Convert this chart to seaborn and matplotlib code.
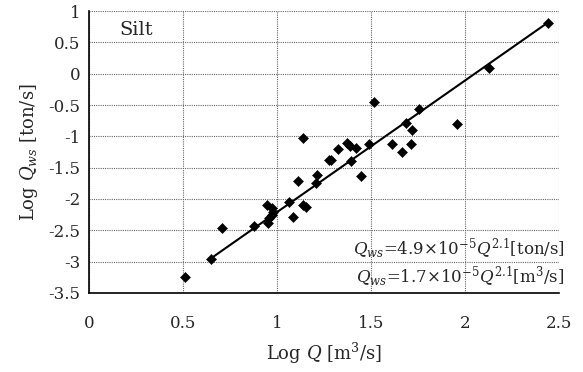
import numpy as np
import pandas as pd
import seaborn as sns
import matplotlib.pyplot as plt

sns.set_theme(style="white")
plt.rcParams['font.family'] = ['DejaVu Serif']
plt.rcParams['mathtext.fontset'] = 'dejavuserif'

# data (log10 values)
log_q = [0.51, 0.65, 0.71, 0.88, 0.945, 0.95, 0.972, 0.972, 0.96, 0.98,
         1.064, 1.087, 1.113, 1.137, 1.14, 1.154, 1.211, 1.207, 1.278, 1.286,
         1.326, 1.371, 1.388, 1.392, 1.42, 1.449, 1.491, 1.516, 1.61, 1.663,
         1.686, 1.711, 1.72, 1.757, 1.956, 2.128, 2.44]
log_qws = [-3.25, -2.95, -2.47, -2.43, -2.10, -2.39, -2.15, -2.26, -2.30, -2.20,
           -2.04, -2.28, -1.71, -1.02, -2.10, -2.13, -1.62, -1.75, -1.37, -1.37,
           -1.21, -1.10, -1.15, -1.39, -1.19, -1.63, -1.12, -0.46, -1.12, -1.25,
           -0.79, -1.12, -0.90, -0.56, -0.80, 0.085, 0.81]

# fitted relation Qws = 4.9e-5 * Q^2.1
coef = 4.9e-5
expo = 2.1
fit_x = np.array([0.65, 2.44])
fit_y = np.log10(coef) + expo * fit_x

df = pd.DataFrame({'x': log_q, 'y': log_qws})
fit = pd.DataFrame({'x': fit_x, 'y': fit_y})

fig = plt.figure(figsize=(5.83, 3.72), dpi=100)
ax = fig.add_axes([0.1527, 0.2124, 0.8061, 0.7580])

sns.lineplot(data=fit, x='x', y='y', color='black', lw=1.5, ax=ax)
sns.scatterplot(data=df, x='x', y='y', marker='D', s=26, color='black',
                edgecolor='black', zorder=3, ax=ax)

ax.set_xlim(0, 2.5)
ax.set_ylim(-3.5, 1)
ax.set_xticks(np.arange(0, 2.51, 0.5))
ax.set_yticks(np.arange(-3.5, 1.01, 0.5))
ax.set_xticklabels(['0', '0.5', '1', '1.5', '2', '2.5'])
ax.set_yticklabels([('%g' % v) for v in np.arange(-3.5, 1.01, 0.5)])
ax.tick_params(axis='x', length=0, pad=16, labelsize=12)
ax.tick_params(axis='y', length=0, pad=6, labelsize=12)

ax.grid(True, color='#666666', linestyle=(0, (1, 1)), lw=0.8)
for s in ['top', 'right']:
    ax.spines[s].set_visible(False)
for s in ['left', 'bottom']:
    ax.spines[s].set_color('black')
    ax.spines[s].set_linewidth(1.2)

ax.set_xlabel(r'Log $Q$ [m$^3$/s]', fontsize=13, labelpad=6)
ax.set_ylabel(r'Log $Q_{ws}$ [ton/s]', fontsize=13, labelpad=6)

ax.text(0.065, 0.965, 'Silt', transform=ax.transAxes, fontsize=14,
        ha='left', va='top')
ax.text(1.012, 0.16, r'$Q_{ws}$=4.9$\times$10$^{-5}$$Q^{2.1}$[ton/s]',
        transform=ax.transAxes, fontsize=12, ha='right', va='center')
ax.text(1.012, 0.06, r'$Q_{ws}$=1.7$\times$10$^{-5}$$Q^{2.1}$[m$^3$/s]',
        transform=ax.transAxes, fontsize=12, ha='right', va='center')

fig.savefig('out.png', dpi=100)
